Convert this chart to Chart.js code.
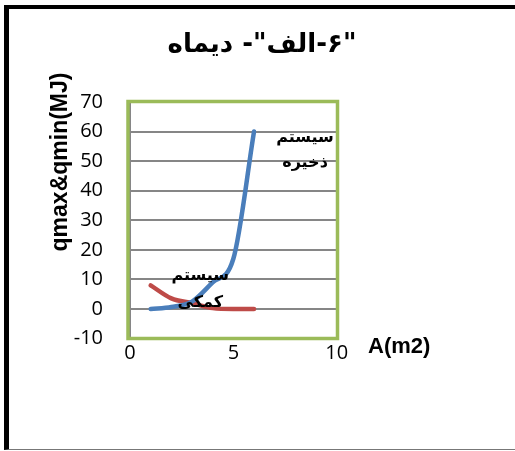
<!DOCTYPE html>
<html><head><meta charset="utf-8">
<script src="https://cdn.jsdelivr.net/npm/chart.js@4"></script>
<style>
html,body{margin:0;padding:0;background:#fff;overflow:hidden;}
#frame{position:absolute;left:4px;top:5px;width:600px;height:440px;border-left:5px solid #000;border-top:4px solid #000;border-bottom:1px solid #777;}
#wrap{position:absolute;left:0;top:0;width:515px;height:451px;}
</style></head><body>
<div id="frame"></div>
<div id="wrap"><canvas id="c"></canvas></div>
<script>
// ---- data ----
const areas = [1, 2, 3, 4, 5, 6];
const storageQ = [0, 0.7, 2.5, 9, 17, 60];
const auxQ = [8, 3.6, 2, 0.3, 0, 0];
const storageLabelLines = ['سیستم', 'ذخیره'];
const auxLabelLines = ['سیستم', 'کمکی'];
const seriesNames = ['سیستم ذخیره', 'سیستم کمکی'];
const chartTitle = '"۶-الف"- دیماه';
const xAxisTitle = 'A(m2)';
const yAxisTitle = 'qmax&qmin(MJ)';
const xRange = [0, 10];
const yRange = [-10, 70];
const xStep = 5;
const yStep = 10;

const toPoints = (xs, ys) => xs.map((x, i) => ({x: x, y: ys[i]}));

const tickFont = {family: '"Open Sans", sans-serif', size: 20};

const decor = {
  id: 'decor',
  afterDraw(chart) {
    const ctx = chart.ctx, ca = chart.chartArea;
    const xs = chart.scales.x, ys = chart.scales.y;
    ctx.save();
    // green plot frame
    ctx.strokeStyle = '#9BBB59';
    ctx.lineWidth = 3.5;
    ctx.strokeRect(ca.left - 2, ca.top - 0.5, (ca.right + 0.8) - (ca.left - 2), (ca.bottom - 0.1) - (ca.top - 0.5));
    ctx.fillStyle = '#000';
    // title
    ctx.font = 'bold 26px "DejaVu Sans", sans-serif';
    ctx.direction = 'rtl';
    ctx.textAlign = 'center';
    ctx.textBaseline = 'middle';
    ctx.fillText(chartTitle, 262, 45);
    // series labels
    ctx.font = 'bold 16px "DejaVu Sans", sans-serif';
    const sx = xs.getPixelForValue(areas[areas.length - 1]) + 51;
    const sy = ys.getPixelForValue(storageQ[storageQ.length - 1]) + 6;
    storageLabelLines.forEach((t, i) => ctx.fillText(t, sx, sy + i * 25));
    const ax = xs.getPixelForValue(3.4);
    const ay = ys.getPixelForValue(11.3);
    auxLabelLines.forEach((t, i) => ctx.fillText(t, ax, ay + i * 27));
    // axis titles
    ctx.direction = 'ltr';
    ctx.font = 'bold 22px "Liberation Sans", Arial, sans-serif';
    ctx.textAlign = 'left';
    ctx.fillText(xAxisTitle, 368, 347);
    ctx.translate(61, 162);
    ctx.rotate(-Math.PI / 2);
    ctx.textAlign = 'center';
    ctx.font = 'bold 23px "Liberation Sans", Arial, sans-serif';
    ctx.fillText(yAxisTitle, 0, 0);
    ctx.restore();
  }
};

new Chart(document.getElementById('c'), {
  type: 'line',
  data: {
    datasets: [
      {label: seriesNames[0], data: toPoints(areas, storageQ), borderColor: '#4A7EBB', borderWidth: 4.5,
       pointRadius: 0, cubicInterpolationMode: 'monotone', fill: false, borderCapStyle: 'round'},
      {label: seriesNames[1], data: toPoints(areas, auxQ), borderColor: '#BE4B48', borderWidth: 4.5,
       pointRadius: 0, cubicInterpolationMode: 'monotone', fill: false, borderCapStyle: 'round'}
    ]
  },
  options: {
    responsive: true,
    maintainAspectRatio: false,
    animation: false,
    layout: {padding: {left: 30, top: 102, right: 178.3, bottom: 82.4}},
    plugins: {legend: {display: false}, title: {display: false}, tooltip: {enabled: false}},
    scales: {
      x: {
        type: 'linear', min: xRange[0], max: xRange[1],
        ticks: {stepSize: xStep, font: tickFont, color: '#000', padding: 3, maxRotation: 0},
        grid: {display: false, drawTicks: false},
        border: {display: false},
        afterFit: s => { s.height = 30; }
      },
      y: {
        type: 'linear', min: yRange[0], max: yRange[1],
        ticks: {stepSize: yStep, font: tickFont, color: '#000', padding: 27},
        grid: {color: '#868686', lineWidth: 2, drawTicks: false},
        border: {display: true, color: '#868686', width: 2},
        afterFit: s => { s.width = 100; }
      }
    }
  },
  plugins: [decor]
});
</script>
</body></html>
